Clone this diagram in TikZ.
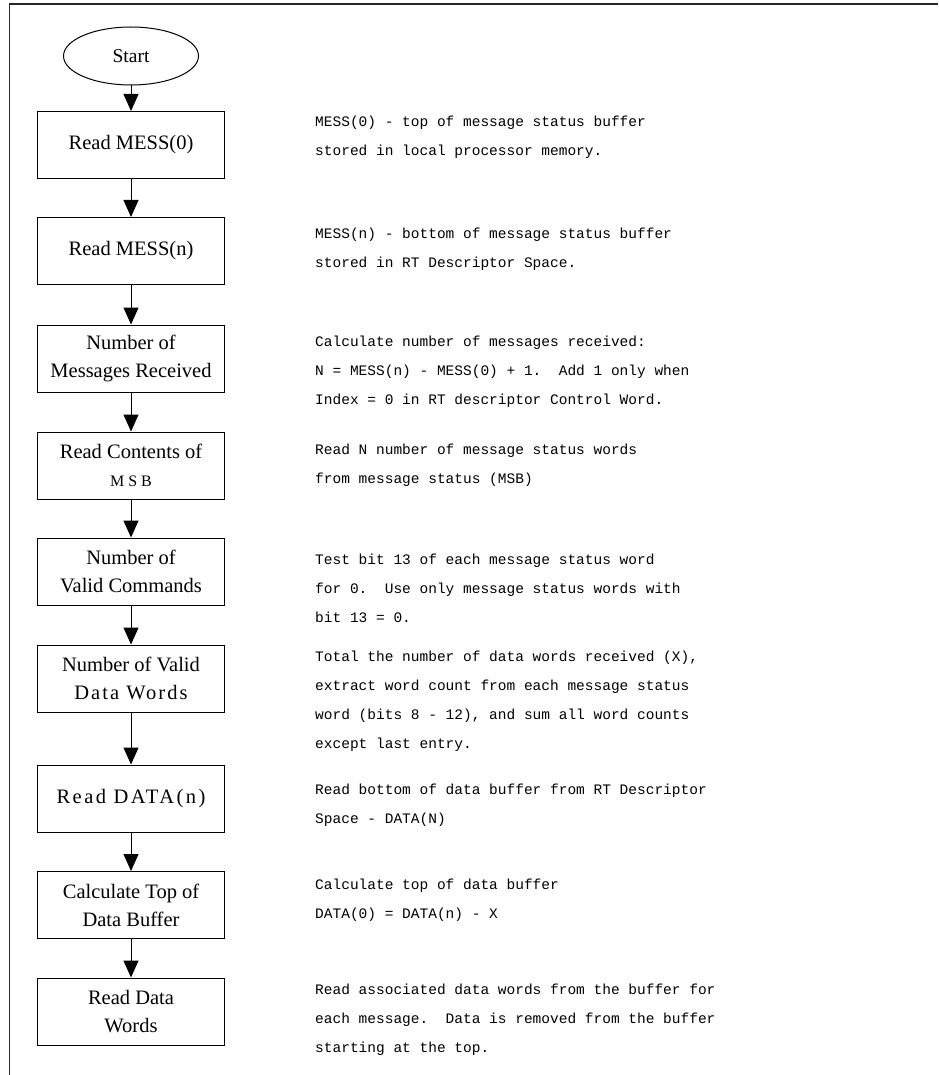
\documentclass[tikz,border=0pt]{standalone}
\usepackage{fontspec}
\setmainfont{Liberation Serif}
\setmonofont{Liberation Mono}
\usetikzlibrary{arrows.meta,shapes.geometric}
\begin{document}
\begin{tikzpicture}[x=1pt,y=-1pt,
  stepbox/.style={draw, line width=1pt, minimum width=187pt, minimum height=67pt,
    inner sep=0pt, align=center, font=\fontsize{20.5}{28}\selectfont},
  flow/.style={line width=1pt, -{Triangle[length=17pt,width=15pt]}},
  note/.style={anchor=base west, inner sep=0pt,
    font=\ttfamily\frenchspacing\fontsize{14.5}{29}\selectfont},
  frame/.style={line width=1.3pt, black!85}]
\useasboundingbox (0,0) rectangle (938,1075);
% open frame: top and left edges only
\draw[frame] (9.5,1075) -- (9.5,4) -- (938,4);

% flow chart column
\node[ellipse, draw, line width=1pt, minimum width=135pt, minimum height=58pt,
      inner sep=0pt, font=\fontsize{19.5}{24}\selectfont] (start) at (131,56) {Start};
\node[stepbox] (b1) at (131,145)   {Read MESS(0)};
\node[stepbox] (b2) at (131,251)   {Read MESS(n)};
\node[stepbox] (b3) at (131,358.5) {Number of\\Messages Received};
\node[stepbox] (b4) at (131,465.5) {Read Contents of\\{\fontsize{16}{28}\selectfont\addfontfeature{LetterSpace=25}MSB}};
\node[stepbox] (b5) at (131,571.5) {Number of\\Valid Commands};
\node[stepbox] (b6) at (131,678.5) {Number of Valid\\{\addfontfeature{LetterSpace=10}Data Words}};
\node[stepbox] (b7) at (131,798.5) {{\addfontfeature{LetterSpace=12}Read DATA(n)}};
\node[stepbox] (b8) at (131,905)   {Calculate Top of\\Data Buffer};
\node[stepbox] (b9) at (131,1011.5){Read Data\\Words};

\draw[flow] (start) -- (b1);
\draw[flow] (b1) -- (b2);
\draw[flow] (b2) -- (b3);
\draw[flow] (b3) -- (b4);
\draw[flow] (b4) -- (b5);
\draw[flow] (b5) -- (b6);
\draw[flow] (b6) -- (b7);
\draw[flow] (b7) -- (b8);
\draw[flow] (b8) -- (b9);

% explanations beside each step
\node[note] (n1) at (315,126.5) {\begin{tabular}[t]{@{}l@{}}
MESS(0) - top of message status buffer\\
stored in local processor memory.\end{tabular}};
\node[note] (n2) at (315,238.5) {\begin{tabular}[t]{@{}l@{}}
MESS(n) - bottom of message status buffer\\
stored in RT Descriptor Space.\end{tabular}};
\node[note] (n3) at (315,346.5) {\begin{tabular}[t]{@{}l@{}}
Calculate number of messages received:\\
N = MESS(n) - MESS(0) + 1.~ Add 1 only when\\
Index = 0 in RT descriptor Control Word.\end{tabular}};
\node[note] (n4) at (315,454.5) {\begin{tabular}[t]{@{}l@{}}
Read N number of message status words\\
from message status (MSB)\end{tabular}};
\node[note] (n5) at (315,564.5) {\begin{tabular}[t]{@{}l@{}}
Test bit 13 of each message status word\\
for 0.~ Use only message status words with\\
bit 13 = 0.\end{tabular}};
\node[note] (n6) at (315,661.5) {\begin{tabular}[t]{@{}l@{}}
Total the number of data words received (X),\\
extract word count from each message status\\
word (bits 8 - 12), and sum all word counts\\
except last entry.\end{tabular}};
\node[note] (n7) at (315,794.5) {\begin{tabular}[t]{@{}l@{}}
Read bottom of data buffer from RT Descriptor\\
Space - DATA(N)\end{tabular}};
\node[note] (n8) at (315,889.5) {\begin{tabular}[t]{@{}l@{}}
Calculate top of data buffer\\
DATA(0) = DATA(n) - X\end{tabular}};
\node[note] (n9) at (315,994.5) {\begin{tabular}[t]{@{}l@{}}
Read associated data words from the buffer for\\
each message.~ Data is removed from the buffer\\
starting at the top.\end{tabular}};
\end{tikzpicture}
\end{document}
